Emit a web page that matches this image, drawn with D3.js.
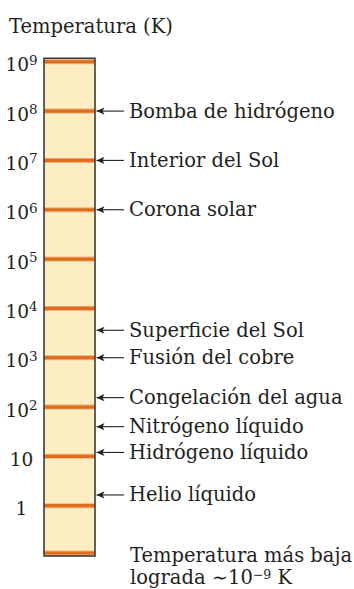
<!DOCTYPE html>
<html>
<head>
<meta charset="utf-8">
<script src="https://cdn.jsdelivr.net/npm/d3@7"></script>
<style>
  html, body { margin: 0; padding: 0; background: #ffffff; }
  svg { display: block; }
  text { font-family: "DejaVu Serif", "Liberation Serif", serif; fill: #231f20; }
</style>
</head>
<body>
<svg id="chart" width="354" height="589"></svg>
<script>
// Decade marks along the thermometer (powers of ten, in K)
const tickExponents = [0, 1, 2, 3, 4, 5, 6, 7, 8, 9];

// Labelled temperatures (K) pointed at by arrows
const eventNames = [
  "Bomba de hidrógeno",
  "Interior del Sol",
  "Corona solar",
  "Superficie del Sol",
  "Fusión del cobre",
  "Congelación del agua",
  "Nitrógeno líquido",
  "Hidrógeno líquido",
  "Helio líquido"
];
const eventTemps = [1e8, 1e7, 1e6, 3600, 1000, 155, 40, 12, 1.65];

// Extent of the drawn column, in log10 K
const columnExtent = [-1.02, 9.07];

const svg = d3.select("#chart");

const barX = 44, barW = 51;
const fs = "19.5px";
const y = d3.scaleLog()
  .domain([Math.pow(10, columnExtent[0]), Math.pow(10, columnExtent[1])])
  .range([556, 58.3]);

// Arrowhead (tip at the end of the line)
svg.append("defs").append("marker")
  .attr("id", "head")
  .attr("viewBox", "0 0 10 10")
  .attr("refX", 10).attr("refY", 5)
  .attr("markerUnits", "userSpaceOnUse")
  .attr("markerWidth", 9).attr("markerHeight", 8)
  .attr("orient", "auto")
  .append("path")
  .attr("d", "M10,5 L0,0.5 L2.5,5 L0,9.5 Z")
  .attr("fill", "#231f20");

// Title
svg.append("text")
  .attr("x", 9).attr("y", 33)
  .style("font-size", fs)
  .text("Temperatura (K)");

// Column
svg.append("rect")
  .attr("x", barX).attr("y", y.range()[1])
  .attr("width", barW).attr("height", y.range()[0] - y.range()[1])
  .attr("fill", "#fdedc2");

// Decade lines
const ticks = tickExponents.map(e => Math.pow(10, e));
svg.append("g").selectAll("line").data(ticks).join("line")
  .attr("x1", barX).attr("x2", barX + barW)
  .attr("y1", d => y(d)).attr("y2", d => y(d))
  .attr("stroke", "#f2b37a").attr("stroke-width", 5);
svg.append("g").selectAll("line").data(ticks).join("line")
  .attr("x1", barX).attr("x2", barX + barW)
  .attr("y1", d => y(d)).attr("y2", d => y(d))
  .attr("stroke", "#e06d1f").attr("stroke-width", 3.2);

// Record-low marker at the foot of the column (axis broken below 1 K)
const floorY = y.range()[0] - 3;
svg.append("line")
  .attr("x1", barX).attr("x2", barX + barW)
  .attr("y1", floorY).attr("y2", floorY)
  .attr("stroke", "#f2b37a").attr("stroke-width", 5);
svg.append("line")
  .attr("x1", barX).attr("x2", barX + barW)
  .attr("y1", floorY).attr("y2", floorY)
  .attr("stroke", "#e06d1f").attr("stroke-width", 3.2);

// Column outline
svg.append("rect")
  .attr("x", barX).attr("y", y.range()[1])
  .attr("width", barW).attr("height", y.range()[0] - y.range()[1])
  .attr("fill", "none").attr("stroke", "#3b3b3b").attr("stroke-width", 1.6);

// Decade labels
const tickLabels = svg.append("g").selectAll("text").data(tickExponents).join("text")
  .attr("x", 21.5)
  .attr("y", e => y(Math.pow(10, e)) + 9.5)
  .attr("text-anchor", "middle")
  .style("font-size", "18.5px");
tickLabels.each(function(e) {
  const t = d3.select(this);
  if (e === 0) { t.text("1"); return; }
  t.append("tspan").text("10");
  if (e > 1) {
    t.append("tspan").attr("dy", -6.5).style("font-size", "13.5px").text(String(e));
  }
});

// Arrows and their labels
const ev = svg.append("g").selectAll("g")
  .data(eventNames.map((n, i) => ({ n, t: eventTemps[i] }))).join("g");
ev.append("line")
  .attr("x1", 124).attr("x2", barX + barW + 1.5)
  .attr("y1", d => y(d.t)).attr("y2", d => y(d.t))
  .attr("stroke", "#231f20").attr("stroke-width", 1.1)
  .attr("marker-end", "url(#head)");
ev.append("text")
  .attr("x", 129)
  .attr("y", d => y(d.t) + 6.5)
  .style("font-size", fs)
  .text(d => d.n);

// Note for the record low temperature
const note = svg.append("text").attr("x", 130).style("font-size", fs);
note.append("tspan").attr("x", 130).attr("y", 562).text("Temperatura más baja");
note.append("tspan").attr("x", 130).attr("y", 584).text("lograda ∼10");
note.append("tspan").attr("dy", -5.5).style("font-size", "12.5px").text("−9");
note.append("tspan").attr("dy", 5.5).text(" K");
</script>
</body>
</html>
